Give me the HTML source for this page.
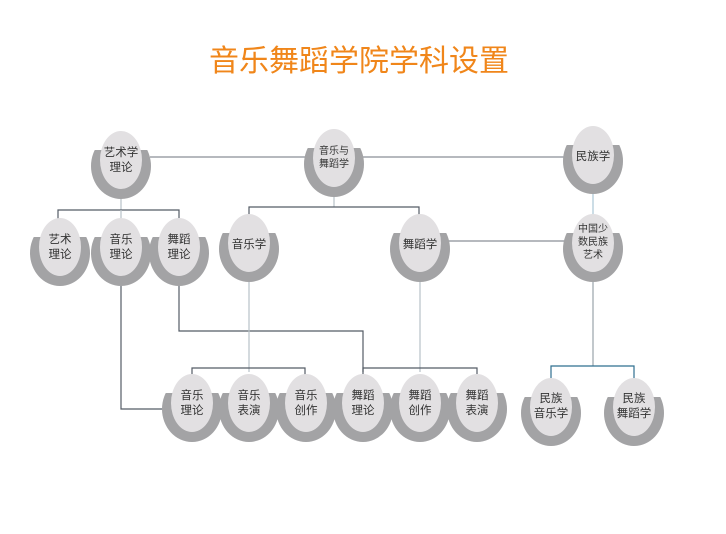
<!DOCTYPE html>
<html><head><meta charset="utf-8"><style>
html,body{margin:0;padding:0;background:#fff;}
svg{display:block;}
text{font-family:"Liberation Sans","Noto Sans CJK SC",sans-serif;fill:#333;text-anchor:middle;}
</style></head><body>
<svg width="726" height="534" viewBox="0 0 726 534" xmlns="http://www.w3.org/2000/svg">
<text x="359" y="71" style="font-size:30px;fill:#f0861a">音乐舞蹈学院学科设置</text>
<g fill="none" stroke-width="1.2">
<line x1="150" y1="157" x2="568" y2="157" stroke="#8a8f96"/>
<polyline points="121,195 121,210" stroke="#b8c2c8"/>
<polyline points="58,222 58,210 179,210 179,222" stroke="#555c66"/>
<line x1="121" y1="210" x2="121" y2="222" stroke="#b8c2c8"/>
<polyline points="334,192 334,207" stroke="#b8c2c8"/>
<polyline points="249,218 249,207 419,207 419,218" stroke="#555c66"/>
<line x1="440" y1="241" x2="568" y2="241" stroke="#8a8f96"/>
<line x1="593" y1="190" x2="593" y2="215" stroke="#a9c6d6"/>
<line x1="593" y1="277" x2="593" y2="366" stroke="#9aa3aa"/>
<polyline points="551,378 551,366 634,366 634,378" stroke="#2f6f8f"/>
<polyline points="121,285 121,409 166,409" stroke="#555c66"/>
<polyline points="179,285 179,331 363,331 363,372" stroke="#555c66"/>
<line x1="249" y1="275" x2="249" y2="372" stroke="#b8c2c8"/>
<polyline points="192,378 192,368 305,368 305,378" stroke="#555c66"/>
<line x1="420" y1="275" x2="420" y2="372" stroke="#b8c2c8"/>
<polyline points="363,378 363,368 477,368 477,378" stroke="#555c66"/>
</g>
<defs>
<g id="n">
<clipPath id="c"><rect x="-40" y="-10" width="80" height="60"/></clipPath>
<ellipse cx="0" cy="6" rx="30" ry="33" fill="#a3a3a5" clip-path="url(#c)"/>
<ellipse cx="0" cy="0" rx="21" ry="29" fill="#e2e0e2"/>
</g>
</defs>
<g style="font-size:11.5px">
<use href="#n" x="121" y="160"/><text x="121" y="156">艺术学</text><text x="121" y="171">理论</text>
<use href="#n" x="334" y="158"/><text x="334" y="154" style="font-size:10px">音乐与</text><text x="334" y="167" style="font-size:10px">舞蹈学</text>
<use href="#n" x="593" y="155"/><text x="593" y="160">民族学</text>
<use href="#n" x="60" y="247"/><text x="60" y="243">艺术</text><text x="60" y="258">理论</text>
<use href="#n" x="121" y="247"/><text x="121" y="243">音乐</text><text x="121" y="258">理论</text>
<use href="#n" x="179" y="247"/><text x="179" y="243">舞蹈</text><text x="179" y="258">理论</text>
<use href="#n" x="249" y="243"/><text x="249" y="248">音乐学</text>
<use href="#n" x="420" y="243"/><text x="420" y="248">舞蹈学</text>
<use href="#n" x="593" y="243"/><text x="593" y="232" style="font-size:10px">中国少</text><text x="593" y="245" style="font-size:10px">数民族</text><text x="593" y="258" style="font-size:10px">艺术</text>
<use href="#n" x="192" y="403"/><text x="192" y="399">音乐</text><text x="192" y="414">理论</text>
<use href="#n" x="249" y="403"/><text x="249" y="399">音乐</text><text x="249" y="414">表演</text>
<use href="#n" x="306" y="403"/><text x="306" y="399">音乐</text><text x="306" y="414">创作</text>
<use href="#n" x="363" y="403"/><text x="363" y="399">舞蹈</text><text x="363" y="414">理论</text>
<use href="#n" x="420" y="403"/><text x="420" y="399">舞蹈</text><text x="420" y="414">创作</text>
<use href="#n" x="477" y="403"/><text x="477" y="399">舞蹈</text><text x="477" y="414">表演</text>
<use href="#n" x="551" y="407"/><text x="551" y="402">民族</text><text x="551" y="417">音乐学</text>
<use href="#n" x="634" y="407"/><text x="634" y="402">民族</text><text x="634" y="417">舞蹈学</text>
</g>
</svg>
</body></html>
